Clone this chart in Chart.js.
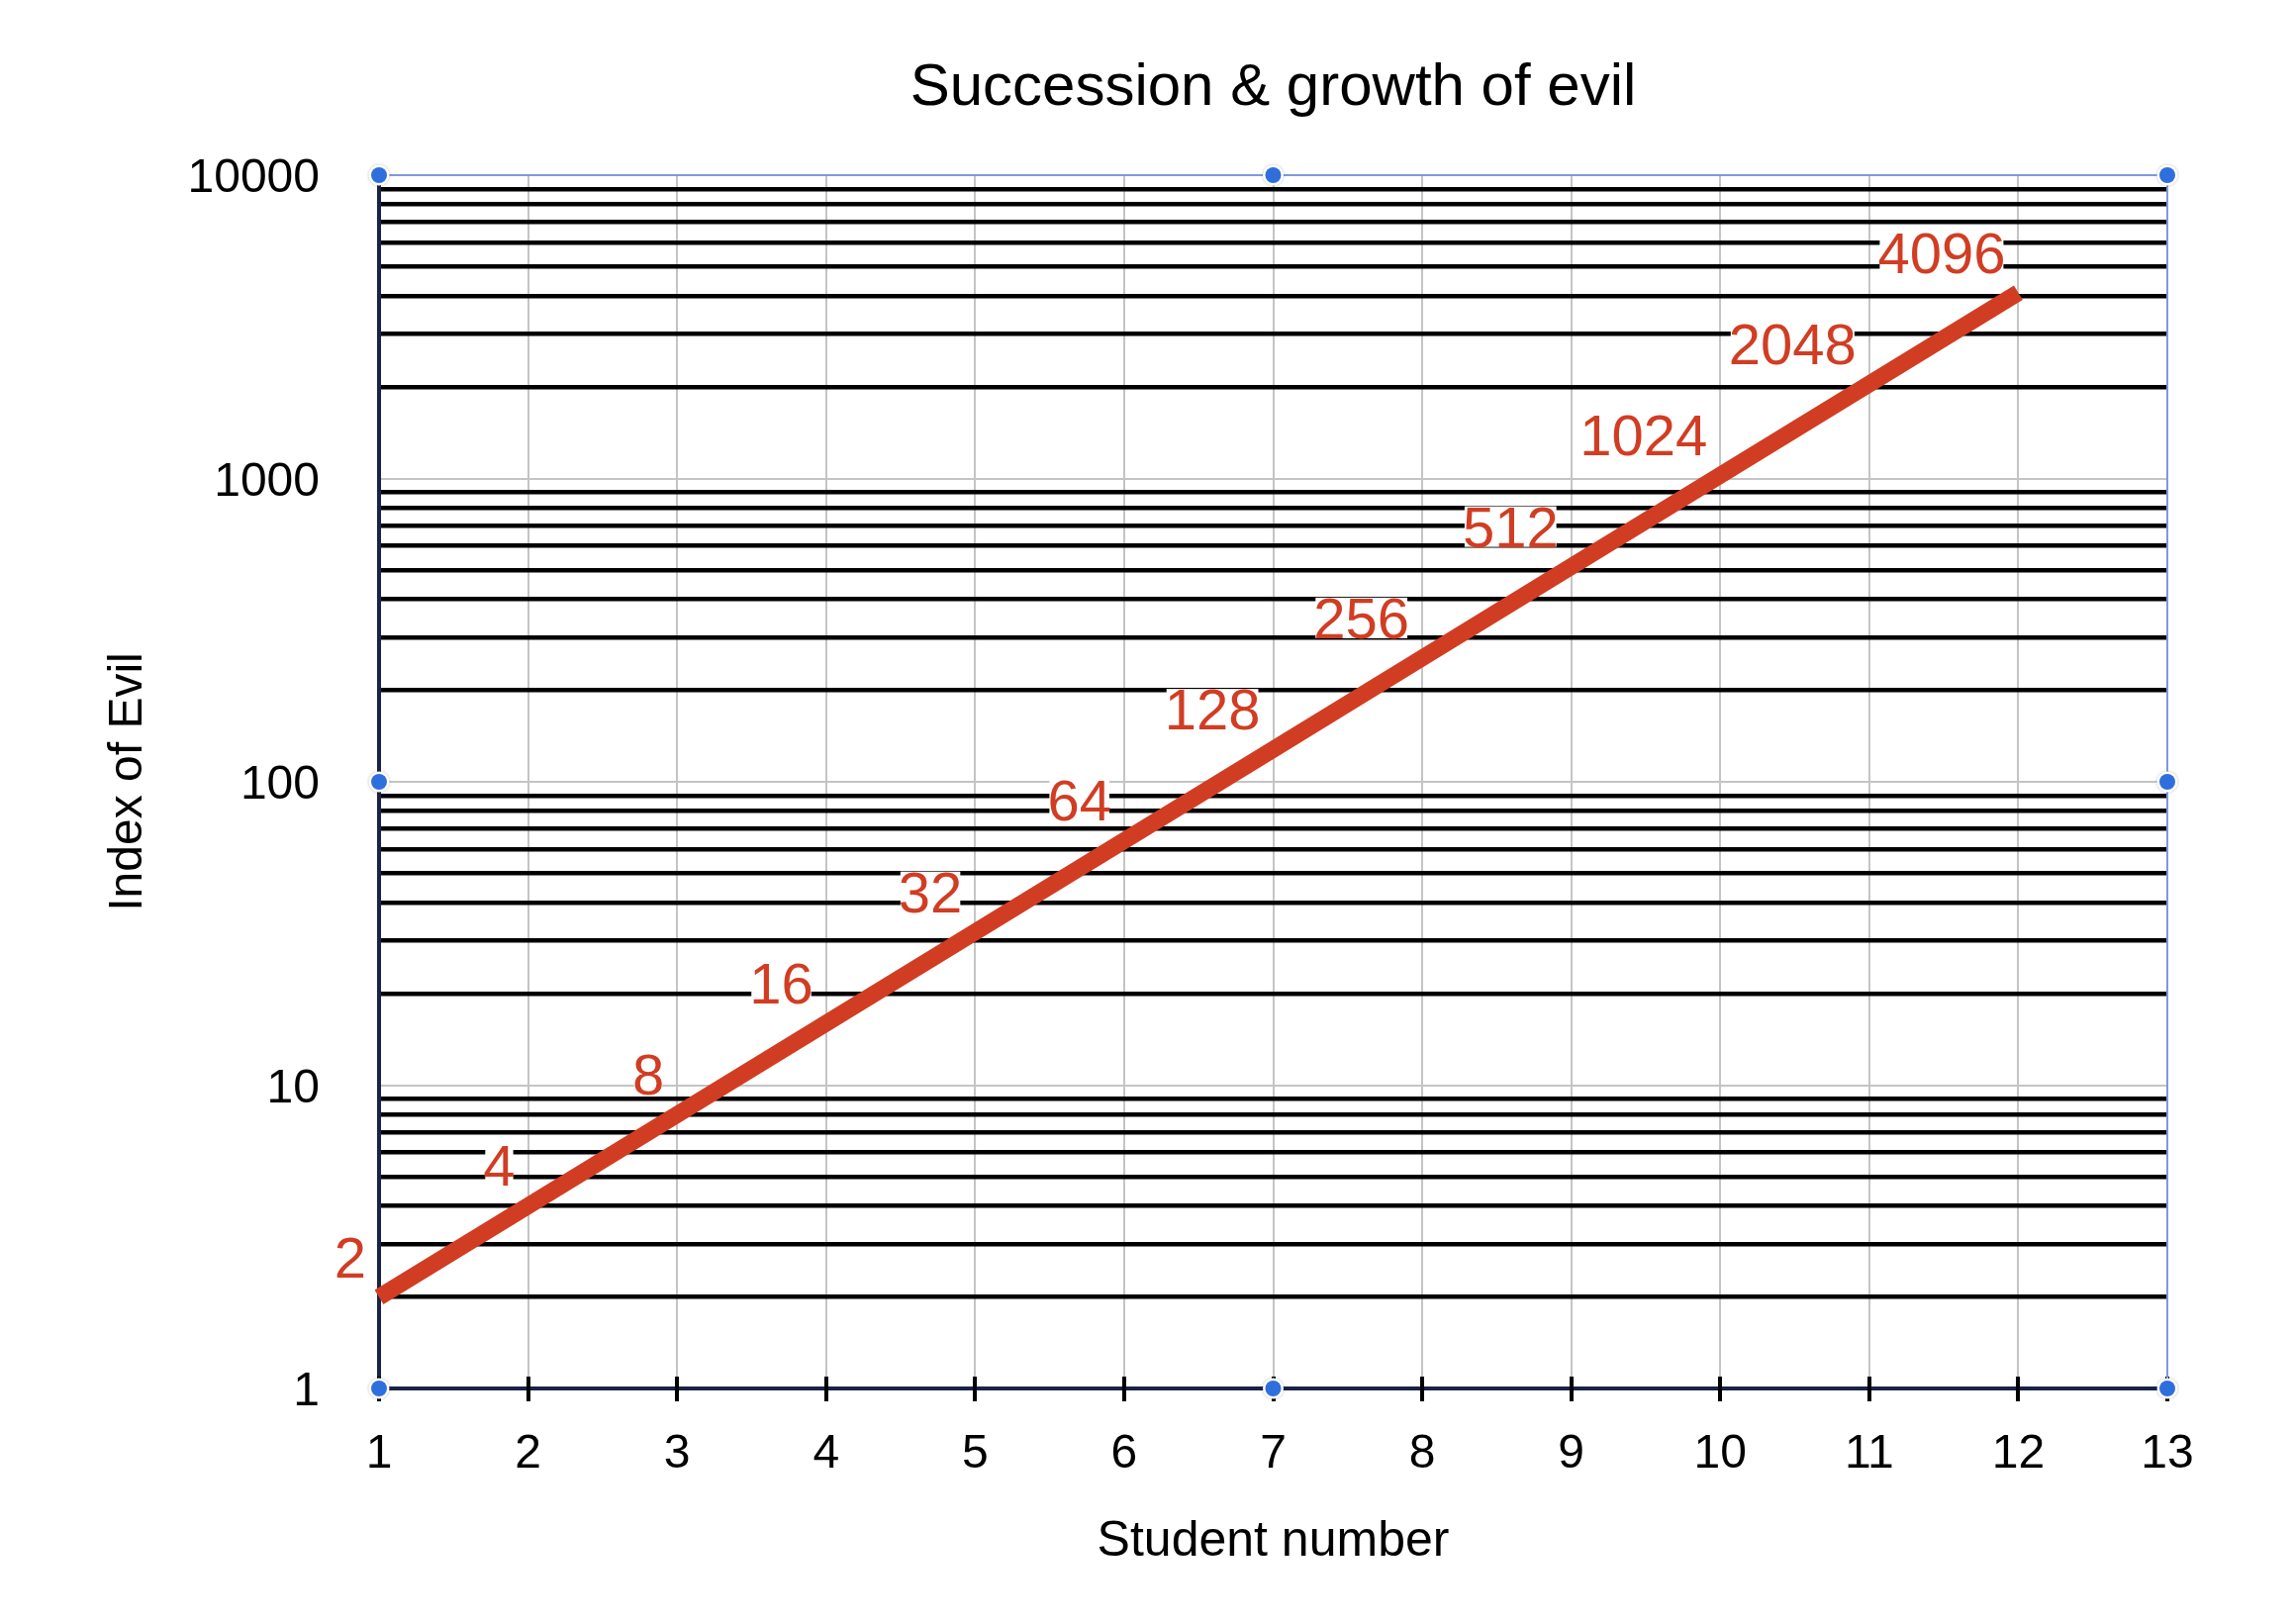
<!DOCTYPE html>
<html>
<head>
<meta charset="utf-8">
<title>Succession & growth of evil</title>
<script src="https://cdn.jsdelivr.net/npm/chart.js@4.4.1/dist/chart.umd.min.js"></script>
<style>
  html, body { margin: 0; padding: 0; background: #fff; }
  #wrap { width: 2318px; height: 1641px; }
</style>
</head>
<body>
<div id="wrap"><canvas id="evilChart" width="2318" height="1641" style="width:2318px;height:1641px"></canvas></div>
<script>
// data
const students = [1, 2, 3, 4, 5, 6, 7, 8, 9, 10, 11, 12];
const evilIndex = [2, 4, 8, 16, 32, 64, 128, 256, 512, 1024, 2048, 4096];
const xTicks = [1, 2, 3, 4, 5, 6, 7, 8, 9, 10, 11, 12, 13];
const yTickLabels = [1, 10, 100, 1000, 10000];
const yMinorSteps = [2, 3, 4, 5, 6, 7, 8, 9];

const RED = '#d13d23';
const NAVY = '#1b2248';
const FRAME_BLUE = '#7f99dc';
const HANDLE_BLUE = '#2f6fdd';

// gridline values: each decade plus its 2..9 steps
const yGridValues = [];
yTickLabels.forEach((d, i) => {
  yGridValues.push(d);
  if (i < yTickLabels.length - 1) yMinorSteps.forEach(s => yGridValues.push(d * s));
});

const isDecade = v => yTickLabels.includes(v);

Chart.defaults.font.family = "'Liberation Sans', Arial, Helvetica, sans-serif";
Chart.defaults.color = '#000';

// value labels above-left of each point
const valueLabels = {
  id: 'valueLabels',
  beforeDatasetsDraw(chart) {
    const ctx = chart.ctx;
    const meta = chart.getDatasetMeta(0);
    ctx.save();
    ctx.font = "58px 'Liberation Sans', Arial, sans-serif";
    ctx.textAlign = 'right';
    ctx.textBaseline = 'alphabetic';
    meta.data.forEach((pt, i) => {
      const txt = String(evilIndex[i]);
      const x = pt.x - 13, y = pt.y - 20;
      const w = ctx.measureText(txt).width;
      ctx.fillStyle = '#fff';
      ctx.fillRect(x - w + 2, y - 41, w - 4, 41);
      ctx.fillStyle = RED;
      ctx.fillText(txt, x, y);
    });
    ctx.restore();
  }
};

// tick marks crossing the x axis, frame on top/right and selection handles
const frameAndHandles = {
  id: 'frameAndHandles',
  afterDraw(chart) {
    const ctx = chart.ctx;
    const a = chart.chartArea;
    const xs = chart.scales.x;
    ctx.save();
    ctx.strokeStyle = '#000';
    ctx.lineWidth = 4;
    xTicks.forEach(v => {
      const px = Math.round(xs.getPixelForValue(v));
      ctx.beginPath();
      ctx.moveTo(px, a.bottom - 12);
      ctx.lineTo(px, a.bottom + 13);
      ctx.stroke();
    });

    ctx.strokeStyle = FRAME_BLUE;
    ctx.lineWidth = 2;
    ctx.beginPath();
    ctx.moveTo(a.left, a.top);
    ctx.lineTo(a.right, a.top);
    ctx.lineTo(a.right, a.bottom);
    ctx.stroke();

    const midX = (a.left + a.right) / 2, midY = (a.top + a.bottom) / 2;
    const handles = [
      [a.left, a.top], [midX, a.top], [a.right, a.top],
      [a.left, midY], [a.right, midY],
      [a.left, a.bottom], [midX, a.bottom], [a.right, a.bottom]
    ];
    handles.forEach(([hx, hy]) => {
      ctx.beginPath();
      ctx.arc(hx, hy, 10.5, 0, Math.PI * 2);
      ctx.fillStyle = '#fff';
      ctx.shadowColor = 'rgba(0,0,0,0.25)';
      ctx.shadowBlur = 3;
      ctx.fill();
      ctx.shadowBlur = 0;
      ctx.beginPath();
      ctx.arc(hx, hy, 8, 0, Math.PI * 2);
      ctx.fillStyle = HANDLE_BLUE;
      ctx.fill();
    });
    ctx.restore();
  }
};

new Chart(document.getElementById('evilChart').getContext('2d'), {
  type: 'line',
  data: {
    datasets: [{
      data: students.map((s, i) => ({ x: s, y: evilIndex[i] })),
      borderColor: RED,
      borderWidth: 17,
      borderCapStyle: 'butt',
      pointRadius: 0,
      pointHoverRadius: 0,
      tension: 0,
      fill: false,
      clip: false
    }]
  },
  options: {
    responsive: false,
    animation: false,
    devicePixelRatio: 1,
    events: [],
    layout: { padding: { top: 0, right: 128, bottom: 0, left: 0 } },
    plugins: {
      legend: { display: false },
      tooltip: { enabled: false },
      title: {
        display: true,
        text: 'Succession & growth of evil',
        fullSize: false,
        color: '#000',
        font: { size: 60, weight: 'normal' },
        padding: { top: 53, bottom: 52 }
      }
    },
    scales: {
      x: {
        type: 'linear',
        min: 1,
        max: 13,
        afterBuildTicks: s => { s.ticks = xTicks.map(v => ({ value: v })); },
        afterFit: s => { s.height = 238; s.paddingLeft = 0; s.paddingRight = 0; },
        grid: { color: '#c4c4c4', lineWidth: 2, drawTicks: false },
        border: { color: NAVY, width: 4 },
        ticks: { color: '#000', font: { size: 48 }, padding: 38, autoSkip: false, maxRotation: 0 },
        title: {
          display: true,
          text: 'Student number',
          color: '#000',
          font: { size: 50 },
          padding: { top: 0, bottom: 53 }
        }
      },
      y: {
        type: 'logarithmic',
        min: 1,
        max: 10000,
        afterBuildTicks: s => { s.ticks = yGridValues.map(v => ({ value: v })); },
        afterFit: s => { s.width = 383; s.paddingTop = 0; s.paddingBottom = 0; },
        grid: {
          color: c => (c.tick && isDecade(c.tick.value)) ? '#c4c4c4' : '#000',
          lineWidth: c => (c.tick && isDecade(c.tick.value)) ? 2 : 4.5,
          drawTicks: false
        },
        border: { color: NAVY, width: 4 },
        ticks: {
          color: '#000',
          font: { size: 48 },
          padding: 60,
          labelOffset: 4,
          autoSkip: false,
          callback: v => isDecade(v) ? String(v) : ''
        },
        title: {
          display: true,
          text: 'Index of Evil',
          color: '#000',
          font: { size: 48 },
          padding: { top: 101, bottom: 0 }
        }
      }
    }
  },
  plugins: [valueLabels, frameAndHandles]
});
</script>
</body>
</html>
